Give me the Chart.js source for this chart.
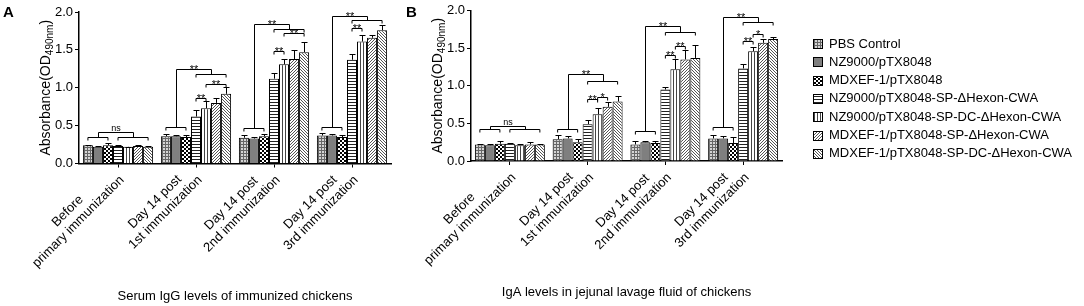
<!DOCTYPE html>
<html>
<head>
<meta charset="utf-8">
<script src="https://cdn.jsdelivr.net/npm/chart.js@4.4.1/dist/chart.umd.min.js"></script>
<style>
  html, body { margin: 0; padding: 0; background: #fff; }
  #wrap { position: relative; width: 1084px; height: 306px; }
  .panel { position: absolute; top: 0; height: 306px; }
  #panelA { left: 0; width: 400px; }
  #panelB { left: 400px; width: 684px; }
</style>
</head>
<body>
<div id="wrap">
  <div class="panel" id="panelA"><canvas id="chartA"></canvas></div>
  <div class="panel" id="panelB"><canvas id="chartB"></canvas></div>
</div>
<script>
const categories = [
    ['Before', 'primary immunization'],
    ['Day 14 post', '1st immunization'],
    ['Day 14 post', '2nd immunization'],
    ['Day 14 post', '3rd immunization']
];
const seriesNames = [
    'PBS Control',
    'NZ9000/pTX8048',
    'MDXEF-1/pTX8048',
    'NZ9000/pTX8048-SP-\u0394Hexon-CWA',
    'NZ9000/pTX8048-SP-DC-\u0394Hexon-CWA',
    'MDXEF-1/pTX8048-SP-\u0394Hexon-CWA',
    'MDXEF-1/pTX8048-SP-DC-\u0394Hexon-CWA'
];

// panel A - serum IgG (one row per series, one value per category)
const iggMeans = [
    [0.24, 0.36, 0.34, 0.37],
    [0.22, 0.36, 0.33, 0.37],
    [0.24, 0.35, 0.36, 0.35],
    [0.23, 0.62, 1.12, 1.37],
    [0.22, 0.73, 1.31, 1.61],
    [0.23, 0.80, 1.38, 1.66],
    [0.22, 0.92, 1.47, 1.76]
];
const iggErrors = [
    [0.01, 0.03, 0.04, 0.03],
    [0.01, 0.02, 0.02, 0.02],
    [0.03, 0.03, 0.03, 0.03],
    [0.01, 0.08, 0.07, 0.07],
    [0.00, 0.09, 0.07, 0.08],
    [0.01, 0.07, 0.12, 0.04],
    [0.01, 0.09, 0.14, 0.07]
];
// per category: left bracket y, right bracket y, joining bracket y, label
const iggGroupSig = [
    [0.355, 0.355, 0.41, 'ns'],
    [0.48, 1.18, 1.25, '**'],
    [0.47, 1.78, 1.84, '**'],
    [0.48, 1.89, 1.95, '**']
];
// category, from bar, to bar, y, label
const iggPairSig = [
    [1, 3, 4, 0.86, '**'], [1, 4, 6, 1.05, '**'],
    [2, 3, 4, 1.48, '**'], [2, 4, 6, 1.72, '**'],
    [3, 3, 4, 1.79, '**']
];

// panel B - jejunal IgA
const igaMeans = [
    [0.22, 0.29, 0.22, 0.30],
    [0.21, 0.30, 0.25, 0.30],
    [0.23, 0.25, 0.24, 0.24],
    [0.23, 0.49, 0.95, 1.23],
    [0.21, 0.62, 1.22, 1.46],
    [0.22, 0.72, 1.35, 1.57],
    [0.22, 0.79, 1.37, 1.62]
];
const igaErrors = [
    [0.01, 0.05, 0.05, 0.04],
    [0.01, 0.03, 0.02, 0.03],
    [0.03, 0.04, 0.03, 0.08],
    [0.01, 0.05, 0.04, 0.06],
    [0.01, 0.08, 0.14, 0.06],
    [0.03, 0.06, 0.12, 0.05],
    [0.01, 0.08, 0.17, 0.03]
];
const igaGroupSig = [
    [0.42, 0.42, 0.46, 'ns'],
    [0.43, 1.06, 1.16, '**'],
    [0.40, 1.71, 1.80, '**'],
    [0.45, 1.85, 1.92, '**']
];
const igaPairSig = [
    [1, 3, 4, 0.82, '**'], [1, 4, 5, 0.85, '*'],
    [2, 3, 4, 1.41, '**'], [2, 4, 5, 1.53, '**'],
    [3, 3, 4, 1.60, '**'], [3, 4, 5, 1.69, '*']
];

const FONT = '"Liberation Sans", Arial, sans-serif';

// bar fill patterns, one per series
function makePattern(kind) {
    const c = document.createElement('canvas');
    const size = kind === 'checker' ? 4 : 3;
    c.width = size; c.height = size;
    const g = c.getContext('2d');
    g.fillStyle = '#fff';
    g.fillRect(0, 0, size, size);
    if (kind === 'mesh') {
        g.fillStyle = '#d4d4d4'; g.fillRect(0, 0, 3, 3);
        g.fillStyle = '#666'; g.fillRect(0, 0, 3, 1); g.fillRect(0, 0, 1, 3);
    } else if (kind === 'solid') {
        g.fillStyle = '#7f7f7f'; g.fillRect(0, 0, 3, 3);
    } else if (kind === 'checker') {
        g.fillStyle = '#000'; g.fillRect(0, 0, 2, 2); g.fillRect(2, 2, 2, 2);
    } else if (kind === 'hlines') {
        g.fillStyle = '#222'; g.fillRect(0, 0, 3, 1);
    } else if (kind === 'vlines') {
        g.fillStyle = '#444'; g.fillRect(0, 0, 1, 3);
    } else if (kind === 'diagUp') {
        g.fillStyle = '#555';
        for (let i = 0; i < 3; i++) g.fillRect(i, 2 - i, 1, 1);
    } else if (kind === 'diagDown') {
        g.fillStyle = '#555';
        for (let i = 0; i < 3; i++) g.fillRect(i, i, 1, 1);
    }
    return g.createPattern(c, 'repeat');
}
const patternKinds = ['mesh', 'solid', 'checker', 'hlines', 'vlines', 'diagUp', 'diagDown'];

function buildDatasets(means, errors) {
    return seriesNames.map((name, i) => ({
        label: name,
        data: means[i],
        errors: errors[i],
        backgroundColor: makePattern(patternKinds[i]),
        borderColor: '#000',
        borderWidth: 1,
        barPercentage: 1,
        categoryPercentage: 0.9
    }));
}

// upper error bars with caps
const errorBars = {
    id: 'errorBars',
    afterDatasetsDraw(chart) {
        const ctx = chart.ctx;
        const y = chart.scales.y;
        ctx.save();
        ctx.strokeStyle = '#000';
        ctx.lineWidth = 1;
        chart.data.datasets.forEach((ds, i) => {
            chart.getDatasetMeta(i).data.forEach((bar, j) => {
                const top = Math.round(y.getPixelForValue(ds.data[j] + ds.errors[j])) + 0.5;
                const x = Math.round(bar.x) + 0.5;
                ctx.beginPath();
                ctx.moveTo(x, bar.y);
                ctx.lineTo(x, top);
                ctx.moveTo(x - 3, top);
                ctx.lineTo(x + 3, top);
                ctx.stroke();
            });
        });
        ctx.restore();
    }
};

// significance brackets
function makeBrackets(groupSig, pairSig) {
    return {
        id: 'sigBrackets',
        afterDatasetsDraw(chart) {
            const ctx = chart.ctx;
            const y = chart.scales.y;
            const px = v => Math.round(y.getPixelForValue(v)) + 0.5;
            const cx = (ds, g) => chart.getDatasetMeta(ds).data[g].x;
            const leg = 3;
            const label = (text, x, yy) => {
                if (text === 'ns') {
                    ctx.font = '9px ' + FONT;
                    ctx.fillText(text, x, yy - 2);
                } else {
                    ctx.font = '11px ' + FONT;
                    ctx.fillText(text, x, yy + 3);
                }
            };
            const bracket = (x1, x2, yy) => {
                ctx.beginPath();
                ctx.moveTo(x1, yy + leg);
                ctx.lineTo(x1, yy);
                ctx.lineTo(x2, yy);
                ctx.lineTo(x2, yy + leg);
                ctx.stroke();
            };
            ctx.save();
            ctx.strokeStyle = '#000';
            ctx.fillStyle = '#000';
            ctx.lineWidth = 1;
            ctx.textAlign = 'center';
            ctx.textBaseline = 'alphabetic';
            groupSig.forEach((s, g) => {
                const yl = px(s[0]), yr = px(s[1]), yj = px(s[2]);
                const l1 = cx(0, g), l2 = cx(2, g), r1 = cx(3, g), r2 = cx(6, g);
                bracket(l1, l2, yl);
                bracket(r1, r2, yr);
                const ml = Math.round((l1 + l2) / 2) + 0.5, mr = Math.round((r1 + r2) / 2) + 0.5;
                ctx.beginPath();
                ctx.moveTo(ml, yl);
                ctx.lineTo(ml, yj);
                ctx.lineTo(mr, yj);
                ctx.lineTo(mr, yr);
                ctx.stroke();
                label(s[3], (ml + mr) / 2, yj);
            });
            pairSig.forEach(p => {
                const x1 = cx(p[1], p[0]), x2 = cx(p[2], p[0]), yy = px(p[3]);
                bracket(x1, x2, yy);
                label(p[4], (x1 + x2) / 2, yy);
            });
            ctx.restore();
        }
    };
}

// rotated two-line category labels, lines centred on each other
const xLabels = {
    id: 'xLabels',
    afterDraw(chart) {
        const { ctx } = chart;
        const x = chart.scales.x;
        const lh = 15;
        ctx.save();
        ctx.fillStyle = '#000';
        ctx.font = '13px ' + FONT;
        ctx.textAlign = 'center';
        ctx.textBaseline = 'middle';
        chart.data.labels.forEach((lines, i) => {
            const w = Math.max(...lines.map(t => ctx.measureText(t).width));
            ctx.save();
            ctx.translate(x.getPixelForTick(i) + 4, x.top + 14.5);
            ctx.rotate(-Math.PI / 4);
            lines.forEach((t, j) => {
                ctx.fillText(t, -w / 2, (j - (lines.length - 1)) * lh);
            });
            ctx.restore();
        });
        ctx.restore();
    }
};

// y axis title with subscript, the panel letter, and an optional legend
function makeDecor(letter, letterX, showLegend) {
    return {
        id: 'decor',
        afterDraw(chart) {
            const { ctx, chartArea } = chart;
            ctx.save();
            ctx.fillStyle = '#000';
            ctx.font = 'bold 15px ' + FONT;
            ctx.textBaseline = 'alphabetic';
            ctx.fillText(letter, letterX, 17);

            ctx.save();
            ctx.translate(chartArea.left - 33, (chartArea.top + chartArea.bottom) / 2);
            ctx.rotate(-Math.PI / 2);
            const main = '14px ' + FONT, sub = '10px ' + FONT;
            ctx.font = main; const w1 = ctx.measureText('Absorbance(OD').width;
            const w3 = ctx.measureText(')').width;
            ctx.font = sub; const w2 = ctx.measureText('490nm').width;
            let x = -(w1 + w2 + w3) / 2;
            ctx.textBaseline = 'middle';
            ctx.font = main; ctx.fillText('Absorbance(OD', x, 0); x += w1;
            ctx.font = sub; ctx.fillText('490nm', x, 4); x += w2;
            ctx.font = main; ctx.fillText(')', x, 0);
            ctx.restore();

            if (showLegend) {
                const items = Chart.defaults.plugins.legend.labels.generateLabels(chart);
                const lx = chartArea.right + 31;
                ctx.font = '13px ' + FONT;
                ctx.textBaseline = 'middle';
                items.forEach((item, i) => {
                    const cy = 44 + i * 18.3;
                    ctx.fillStyle = item.fillStyle;
                    ctx.fillRect(lx, Math.round(cy - 5), 10, 10);
                    ctx.strokeStyle = '#000';
                    ctx.lineWidth = 1;
                    ctx.strokeRect(lx + 0.5, Math.round(cy - 5) + 0.5, 9, 9);
                    ctx.fillStyle = '#000';
                    ctx.fillText(item.text, lx + 16, cy);
                });
            }
            ctx.restore();
        }
    };
}

function buildPanel(canvasId, means, errors, groupSig, pairSig, opts) {
    return new Chart(document.getElementById(canvasId).getContext('2d'), {
        type: 'bar',
        data: { labels: categories, datasets: buildDatasets(means, errors) },
        options: {
            responsive: true,
            maintainAspectRatio: false,
            animation: false,
            layout: { padding: { top: opts.top, right: opts.right, left: 0, bottom: 0 } },
            scales: {
                x: {
                    grid: { display: true, drawOnChartArea: false, offset: false, color: '#000', tickLength: 4, tickWidth: 1 },
                    border: { color: '#000', width: 1.5 },
                    ticks: { display: false },
                    title: { display: true, text: opts.xTitle, color: '#000', font: { family: FONT, size: 13 }, padding: { top: 0, bottom: opts.titlePad } },
                    afterFit: s => { s.height = opts.xHeight; }
                },
                y: {
                    min: 0,
                    max: 2,
                    grid: { display: true, drawOnChartArea: false, color: '#000', tickLength: 4 },
                    border: { color: '#000', width: 1.5 },
                    ticks: { stepSize: 0.5, color: '#000', font: { family: FONT, size: 13 }, padding: 2, callback: v => v.toFixed(1) },
                    afterFit: s => { s.width = opts.yWidth; }
                }
            },
            plugins: {
                tooltip: { enabled: false },
                legend: { display: false }
            }
        },
        plugins: [errorBars, makeBrackets(groupSig, pairSig), xLabels, makeDecor(opts.letter, opts.letterX, opts.legend)]
    });
}

buildPanel('chartA', iggMeans, iggErrors, iggGroupSig, iggPairSig, {
    xTitle: 'Serum IgG levels of immunized chickens', titlePad: 2,
    xHeight: 142.5, yWidth: 79, top: 12, right: 9, letter: 'A', letterX: 3
});
buildPanel('chartB', igaMeans, igaErrors, igaGroupSig, igaPairSig, {
    xTitle: 'IgA levels in jejunal lavage fluid of chickens', titlePad: 6,
    xHeight: 145, yWidth: 71, top: 10.5, right: 302, letter: 'B', letterX: 6, legend: true
});
</script>
</body>
</html>
